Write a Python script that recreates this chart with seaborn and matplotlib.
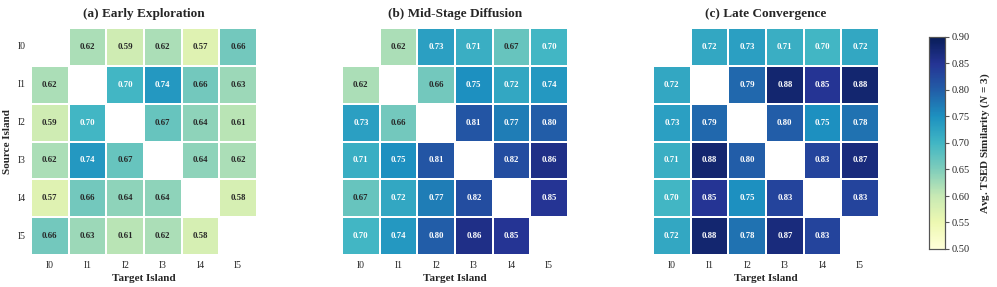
import numpy as np
import pandas as pd
import matplotlib
matplotlib.use("Agg")
import matplotlib.pyplot as plt
import seaborn as sns

islands = ["I0", "I1", "I2", "I3", "I4", "I5"]
nan = np.nan
early = [
    [nan, 0.62, 0.59, 0.62, 0.57, 0.66],
    [0.62, nan, 0.70, 0.74, 0.66, 0.63],
    [0.59, 0.70, nan, 0.67, 0.64, 0.61],
    [0.62, 0.74, 0.67, nan, 0.64, 0.62],
    [0.57, 0.66, 0.64, 0.64, nan, 0.58],
    [0.66, 0.63, 0.61, 0.62, 0.58, nan],
]
mid = [
    [nan, 0.62, 0.73, 0.71, 0.67, 0.70],
    [0.62, nan, 0.66, 0.75, 0.72, 0.74],
    [0.73, 0.66, nan, 0.81, 0.77, 0.80],
    [0.71, 0.75, 0.81, nan, 0.82, 0.86],
    [0.67, 0.72, 0.77, 0.82, nan, 0.85],
    [0.70, 0.74, 0.80, 0.86, 0.85, nan],
]
late = [
    [nan, 0.72, 0.73, 0.71, 0.70, 0.72],
    [0.72, nan, 0.79, 0.88, 0.85, 0.88],
    [0.73, 0.79, nan, 0.80, 0.75, 0.78],
    [0.71, 0.88, 0.80, nan, 0.83, 0.87],
    [0.70, 0.85, 0.75, 0.83, nan, 0.83],
    [0.72, 0.88, 0.78, 0.87, 0.83, nan],
]
titles = ["(a) Early Exploration", "(b) Mid-Stage Diffusion", "(c) Late Convergence"]
cbar_ticks = [0.50, 0.55, 0.60, 0.65, 0.70, 0.75, 0.80, 0.85, 0.90]
cbar_label = r"Avg. TSED Similarity ($N$ = 3)"

sns.set_theme(style="white")
plt.rcParams["font.family"] = ["Liberation Serif", "DejaVu Serif"]
plt.rcParams["mathtext.fontset"] = "custom"
plt.rcParams["mathtext.it"] = "Liberation Serif:bold:italic"
plt.rcParams["mathtext.rm"] = "Liberation Serif:bold"

fig = plt.figure(figsize=(9.97, 2.87), dpi=100)
lefts = [31 / 997, 342 / 997, 653 / 997]
bottom = (287 - 255) / 287
w = 226 / 997
h = 227 / 287
cax = fig.add_axes([929 / 997, (287 - 249) / 287, 16 / 997, 212 / 287])

for i, (data, title) in enumerate(zip([early, mid, late], titles)):
    ax = fig.add_axes([lefts[i], bottom, w, h])
    df = pd.DataFrame(data, index=islands, columns=islands)
    sns.heatmap(
        df, ax=ax, cmap="YlGnBu", vmin=0.5, vmax=0.9,
        annot=True, fmt=".2f",
        annot_kws={"fontsize": 6.3, "fontweight": "bold"},
        linewidths=1.2, linecolor="white",
        cbar=(i == 2), cbar_ax=cax if i == 2 else None,
    )
    ax.set_title(title, fontsize=9.5, fontweight="bold", pad=8)
    ax.set_xlabel("Target Island", fontsize=8, fontweight="bold", labelpad=3)
    ax.tick_params(axis="both", length=0, labelsize=7, pad=4)
    ax.set_xticklabels(islands, rotation=0)
    if i == 0:
        ax.set_yticklabels(islands, rotation=0)
        ax.set_ylabel("Source Island", fontsize=8, fontweight="bold", labelpad=4)
    else:
        ax.set_yticks([])
        ax.set_ylabel("")

cax.set_ylabel(cbar_label, fontsize=8, fontweight="bold", labelpad=6)
cax.tick_params(labelsize=7.5, length=3, width=0.8, direction="out", right=True,
                color="#555555", pad=2)
cax.set_yticks(cbar_ticks)
cax.set_yticklabels([f"{v:.2f}" for v in cbar_ticks])
for sp in cax.spines.values():
    sp.set_visible(True)
    sp.set_color("#555555")
    sp.set_linewidth(0.8)

fig.savefig("out.png", dpi=100)
